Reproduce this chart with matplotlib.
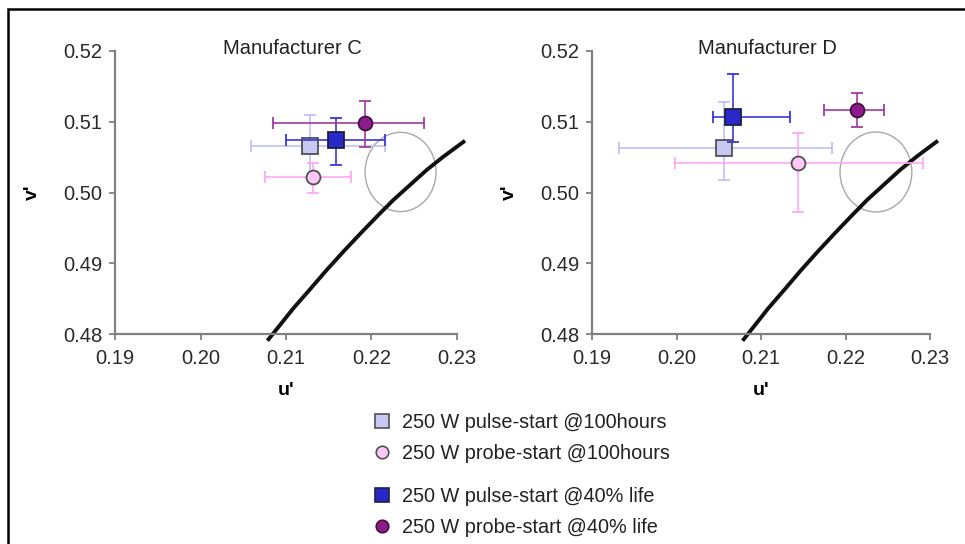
import matplotlib
matplotlib.use("Agg")
import matplotlib.pyplot as plt
from matplotlib.patches import Ellipse, Rectangle
from matplotlib.lines import Line2D

plt.rcParams['font.family'] = ['Liberation Sans', 'DejaVu Sans']

# ---------------- data ----------------
panels = ["Manufacturer C", "Manufacturer D"]
series = ["250 W pulse-start @100hours", "250 W probe-start @100hours",
          "250 W pulse-start @40% life", "250 W probe-start @40% life"]

# Manufacturer C: u', v', u' error (lo, hi), v' error (lo, hi)
c_u = [0.2128, 0.2131, 0.2158, 0.2192]
c_v = [0.5066, 0.5022, 0.5074, 0.5098]
c_uerr_lo = [0.0069, 0.0056, 0.0058, 0.0107]
c_uerr_hi = [0.0088, 0.0045, 0.0058, 0.0069]
c_verr_lo = [0.0044, 0.0022, 0.0035, 0.0033]
c_verr_hi = [0.0044, 0.0019, 0.0032, 0.0031]

# Manufacturer D
d_u = [0.2056, 0.2144, 0.2067, 0.2214]
d_v = [0.5063, 0.5042, 0.5107, 0.5117]
d_uerr_lo = [0.0124, 0.0146, 0.0024, 0.0039]
d_uerr_hi = [0.0128, 0.0148, 0.0067, 0.0032]
d_verr_lo = [0.0046, 0.0070, 0.0036, 0.0025]
d_verr_hi = [0.0065, 0.0042, 0.0061, 0.0023]

# target ellipse (center u', v', width, height)
c_ell = [0.2234, 0.5029, 0.0083, 0.0112]
d_ell = [0.2236, 0.5029, 0.0085, 0.0113]

# black-body locus
locus_u = [0.20782, 0.20930, 0.21086, 0.21281, 0.21476, 0.21670, 0.21865,
           0.22061, 0.22255, 0.22450, 0.22645, 0.22840, 0.23094]
locus_v = [0.47905, 0.48127, 0.48363, 0.48632, 0.48905, 0.49163, 0.49413,
           0.49658, 0.49894, 0.50106, 0.50318, 0.50506, 0.50732]

xticks = [0.19, 0.20, 0.21, 0.22, 0.23]
yticks = [0.48, 0.49, 0.50, 0.51, 0.52]

# ---------------- styles ----------------
markers = ['s', 'o', 's', 'o']
face = ['#c8c8f4', '#ffc8f8', '#2828c8', '#8c1c8c']
edge = ['#505050', '#505050', '#202040', '#401040']
ecol = ['#c0c0f8', '#ffa8f8', '#3838d8', '#a03ca0']
msize = [11, 10, 11, 10]

W, H = 965, 544
fig = plt.figure(figsize=(W / 100, H / 100), dpi=100)

ax_pos = [(115, 51, 457, 334), (592, 51, 930, 334)]
data = [
    (c_u, c_v, c_uerr_lo, c_uerr_hi, c_verr_lo, c_verr_hi, c_ell),
    (d_u, d_v, d_uerr_lo, d_uerr_hi, d_verr_lo, d_verr_hi, d_ell),
]

for k, (x0, y0, x1, y1) in enumerate(ax_pos):
    ax = fig.add_axes([x0 / W, 1 - y1 / H, (x1 - x0) / W, (y1 - y0) / H])
    u, v, ulo, uhi, vlo, vhi, ell = data[k]
    ax.set_xlim(0.19, 0.23)
    ax.set_ylim(0.48, 0.52)
    for i in range(4):
        ax.errorbar(u[i], v[i], xerr=[[ulo[i]], [uhi[i]]], yerr=[[vlo[i]], [vhi[i]]],
                    fmt=markers[i], ms=msize[i], mfc=face[i], mec=edge[i], mew=1.3,
                    ecolor=ecol[i], elinewidth=1.2, capsize=4, capthick=1.2,
                    zorder=3 + i)
    ax.add_patch(Ellipse((ell[0], ell[1]), ell[2], ell[3], fill=False,
                         edgecolor='#a8a8a8', lw=1.0, zorder=2))
    ax.plot(locus_u, locus_v, color='#111111', lw=2.8, clip_on=False,
            solid_capstyle='butt', solid_joinstyle='round', zorder=2)
    for s in ('top', 'right'):
        ax.spines[s].set_visible(False)
    for s in ('left', 'bottom'):
        ax.spines[s].set_color('#808080')
        ax.spines[s].set_linewidth(1.6)
    ax.set_xticks(xticks)
    ax.set_yticks(yticks)
    ax.set_xticklabels([f"{t:.2f}" for t in xticks])
    ax.set_yticklabels([f"{t:.2f}" for t in yticks])
    ax.tick_params(direction='out', length=4, width=1.3, color='#808080',
                   labelsize=14.5, labelcolor='#2a2a2a')
    ax.tick_params(axis='x', pad=7)
    ax.tick_params(axis='y', pad=5)
    ax.set_xlabel("u'", fontsize=14, fontweight='bold', labelpad=10)
    ax.set_ylabel("v'", fontsize=14, fontweight='bold', labelpad=16)
    ax.text(0.52, 1.008, panels[k], transform=ax.transAxes, ha='center',
            va='center', fontsize=14.5, color='#222222')
    ax.patch.set_alpha(0)

# legend (two groups)
handles = [Line2D([], [], ls='none', marker=markers[i], ms=msize[i] - 1,
                  mfc=face[i], mec=edge[i], mew=1.2) for i in range(4)]
for g, ytop in ((0, 403), (2, 477)):
    fig.legend(handles[g:g + 2], series[g:g + 2], loc='upper left',
               bbox_to_anchor=(362 / W, 1 - ytop / H), frameon=False,
               fontsize=14.3, handlelength=1.0, handletextpad=0.5,
               labelspacing=0.6, borderpad=0, labelcolor='#222222')

# outer frame
fig.add_artist(Rectangle((8 / W, -0.1), 1.2, 1.1 - 9 / H, transform=fig.transFigure,
                         fill=False, edgecolor='black', lw=1.8))

fig.savefig("out.png", dpi=100)
